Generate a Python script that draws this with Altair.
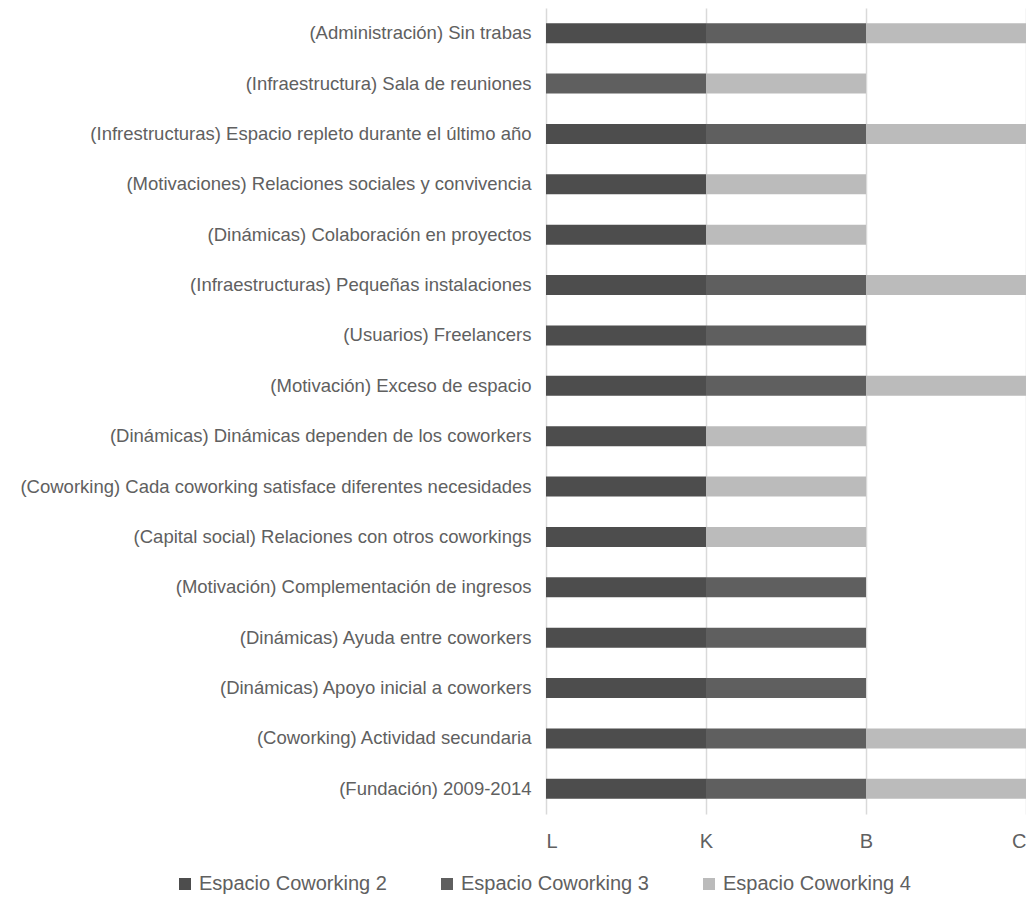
import altair as alt
import pandas as pd

categories = [
    "(Administración) Sin trabas",
    "(Infraestructura) Sala de reuniones",
    "(Infrestructuras) Espacio repleto durante el último año",
    "(Motivaciones) Relaciones sociales y convivencia",
    "(Dinámicas) Colaboración en proyectos",
    "(Infraestructuras) Pequeñas instalaciones",
    "(Usuarios) Freelancers",
    "(Motivación) Exceso de espacio",
    "(Dinámicas) Dinámicas dependen de los coworkers",
    "(Coworking) Cada coworking satisface diferentes necesidades",
    "(Capital social) Relaciones con otros coworkings",
    "(Motivación) Complementación de ingresos",
    "(Dinámicas) Ayuda entre coworkers",
    "(Dinámicas) Apoyo inicial a coworkers",
    "(Coworking) Actividad secundaria",
    "(Fundación) 2009-2014",
]
series_names = ["Espacio Coworking 2", "Espacio Coworking 3", "Espacio Coworking 4"]
cw2 = [1, 0, 1, 1, 1, 1, 1, 1, 1, 1, 1, 1, 1, 1, 1, 1]
cw3 = [1, 1, 1, 0, 0, 1, 1, 1, 0, 0, 0, 1, 1, 1, 1, 1]
cw4 = [1, 1, 1, 1, 1, 1, 0, 1, 1, 1, 1, 0, 0, 0, 1, 1]
tick_labels = ["L", "K", "B", "C"]
colors = ["#4d4d4d", "#5f5f5f", "#bbbbbb"]

rows = []
for si, (name, vals) in enumerate(zip(series_names, [cw2, cw3, cw4])):
    for c, v in zip(categories, vals):
        if v:
            rows.append({"cat": c, "serie": name, "val": v, "ord": si})
df = pd.DataFrame(rows)

label_expr = "[" + ",".join(f"'{t}'" for t in tick_labels) + "][datum.value]"

FONT = "Liberation Sans"
TXT = "#606060"

chart = alt.Chart(df).mark_bar(size=20).encode(
    y=alt.Y("cat:N", sort=categories, title=None,
            scale=alt.Scale(paddingInner=0.6, paddingOuter=0.3),
            axis=alt.Axis(domain=False, ticks=False, labelPadding=15,
                          labelFontSize=18.5, labelColor=TXT, labelFont=FONT,
                          labelLimit=560, grid=False)),
    x=alt.X("val:Q", stack="zero", title=None,
            scale=alt.Scale(domain=[0, 3], nice=False),
            axis=alt.Axis(values=[0, 1, 2, 3], labelExpr=label_expr, domain=False,
                          ticks=False, grid=True, gridColor="#d9d9d9", gridWidth=1.5,
                          labelPadding=17, labelFontSize=20, labelColor=TXT,
                          labelFont=FONT)),
    color=alt.Color("serie:N", sort=series_names,
                    scale=alt.Scale(domain=series_names, range=colors),
                    legend=alt.Legend(title=None, orient="none", direction="horizontal",
                                      legendX=-371, legendY=866, columns=3,
                                      columnPadding=50, symbolType="square",
                                      symbolSize=144, symbolStrokeWidth=0,
                                      labelFontSize=20, labelColor=TXT,
                                      labelFont=FONT, labelOffset=4, labelLimit=300)),
    order=alt.Order("ord:Q"),
).properties(
    width=480, height=806,
    autosize=alt.AutoSizeParams(type="none"),
    padding={"left": 538, "top": 0, "right": 0, "bottom": 82},
).configure_view(stroke=None)

chart.save("out.html", embed_options={"renderer": "svg", "actions": False})
